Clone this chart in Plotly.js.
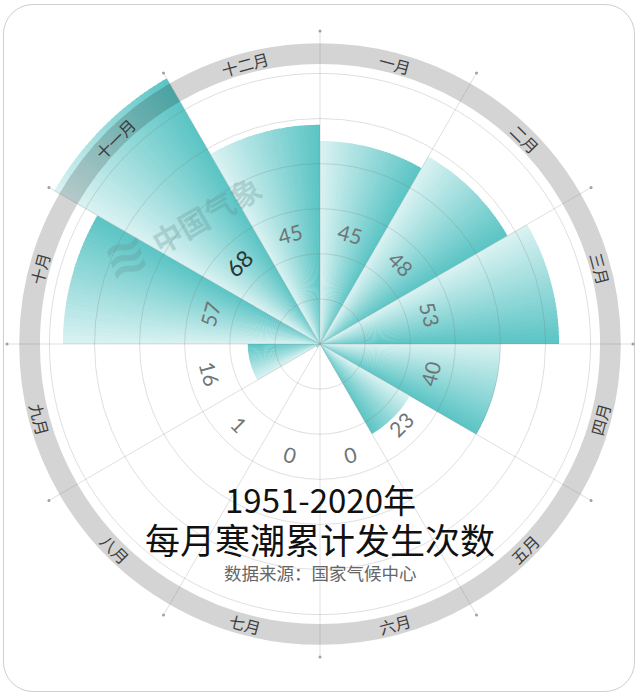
<!DOCTYPE html>
<html>
<head>
<meta charset="utf-8">
<script src="https://cdn.plot.ly/plotly-3.0.1.min.js"></script>
<style>
html,body{margin:0;padding:0;background:#ffffff;}
#frame{position:absolute;left:3px;top:4px;width:632px;height:688px;border:1px solid #cfcfcf;border-radius:30px;box-sizing:border-box;}
#chart{position:absolute;left:0;top:0;width:640px;height:696px;}
</style>
</head>
<body>
<div id="frame"></div>
<div id="chart"></div>
<script>
// ---------------- data ----------------
const months = ['一月','二月','三月','四月','五月','六月','七月','八月','九月','十月','十一月','十二月'];
const counts = [45, 48, 53, 40, 23, 0, 0, 1, 16, 57, 68, 45];          // printed numbers
const barLength = [45, 48, 53, 40, 23, 0, 0, 1, 16, 57, 68, 48.6];     // bar lengths as drawn
const titleLine1 = '1951-2020年';
const titleLine2 = '每月寒潮累计发生次数';
const sourceText = '数据来源：国家气候中心';
const watermark = '中国气象';

// ---------------- geometry / style ----------------
const W = 640, H = 696;
const CX = 320, CY = 344, R_PX = 313, R_MAX = 69.4;
const STEP = 360 / months.length;
const SLICES = 30;
const RING_IN = 62.1, RING_OUT = 66.7;
const LABEL_R = 25.3, MONTH_R = 64.35;
const LIGHT = [218, 242, 242], DARK = [90, 196, 196];
const GRID = 'rgba(110,110,110,0.22)';
const CJK = '"Noto Sans CJK SC", "Noto Sans", sans-serif';

function mix(a, b, t) {
  return 'rgb(' + a.map((v, j) => Math.round(v + (b[j] - v) * t)).join(',') + ')';
}
const domain = {
  x: [(CX - R_PX) / W, (CX + R_PX) / W],
  y: [(H - CY - R_PX) / H, (H - CY + R_PX) / H]
};
const thetaCenters = months.map((m, i) => i * STEP + STEP / 2);

// gradient bars: each month bar split into thin angular slices
const slR = [], slT = [], slW = [], slC = [];
barLength.forEach((v, i) => {
  if (!v) return;
  const start = i * STEP;
  for (let k = 0; k < SLICES; k++) {
    const a0 = start + k * STEP / SLICES;
    const a1 = Math.min(start + (k + 1) * STEP / SLICES + 0.35, start + STEP);
    slR.push(v);
    slT.push((a0 + a1) / 2);
    slW.push(a1 - a0);
    slC.push(mix(LIGHT, DARK, (k + 0.5) / SLICES));
  }
});

const traces = [
  {
    type: 'barpolar', subplot: 'polar',
    r: slR, theta: slT, width: slW,
    marker: {color: slC, line: {width: 0}},
    hoverinfo: 'skip'
  },
  {
    type: 'barpolar', subplot: 'polar',
    base: months.map(() => RING_IN),
    r: months.map(() => RING_OUT - RING_IN),
    theta: thetaCenters, width: months.map(() => STEP),
    marker: {color: 'rgba(0,0,0,0.17)', line: {width: 0}},
    hoverinfo: 'skip'
  },
  {
    type: 'scatterpolar', subplot: 'polar2', mode: 'markers',
    r: months.map(() => R_MAX),
    theta: months.map((m, i) => i * STEP),
    marker: {size: 3, color: '#a0a0a0'},
    cliponaxis: false, hoverinfo: 'skip'
  }
];

function toPaper(rv, th) {
  const rad = th * Math.PI / 180, rp = rv * R_PX / R_MAX;
  return {x: (CX + rp * Math.sin(rad)) / W, y: 1 - (CY - rp * Math.cos(rad)) / H};
}
function readable(th) { return th <= 90 ? th : (th < 270 ? th - 180 : th - 360); }

const maxCount = Math.max(...counts);
const annotations = [];
counts.forEach((c, i) => {
  const p = toPaper(LABEL_R, thetaCenters[i]);
  annotations.push({
    xref: 'paper', yref: 'paper', x: p.x, y: p.y, xanchor: 'center', yanchor: 'middle',
    text: String(c), showarrow: false, textangle: readable(thetaCenters[i]),
    font: {family: 'Lato, "Liberation Sans", sans-serif', size: c === maxCount ? 23 : 21,
           color: c === maxCount ? '#2b3535' : '#6d7676'}
  });
});
months.forEach((m, i) => {
  const p = toPaper(MONTH_R, thetaCenters[i]);
  annotations.push({
    xref: 'paper', yref: 'paper', x: p.x, y: p.y, xanchor: 'center', yanchor: 'middle',
    text: m, showarrow: false, textangle: readable(thetaCenters[i]),
    font: {family: CJK, size: 16, color: '#3c3c3c'}
  });
});
annotations.push(
  {xref: 'paper', yref: 'paper', x: 126 / W, y: 1 - 256 / H, xanchor: 'center', yanchor: 'middle',
   text: '≋', showarrow: false, textangle: -20,
   font: {family: '"DejaVu Sans", sans-serif', size: 52, weight: 700, color: 'rgba(95,140,140,0.26)'}},
  {xref: 'paper', yref: 'paper', x: 206 / W, y: 1 - 214 / H, xanchor: 'center', yanchor: 'middle',
   text: watermark, showarrow: false,
   textangle: -30, font: {family: CJK, size: 30, weight: 700, color: 'rgba(95,140,140,0.28)'}},
  {xref: 'paper', yref: 'paper', x: 0.5, y: 1 - 499 / H, xanchor: 'center', yanchor: 'middle',
   text: titleLine1, showarrow: false, font: {family: CJK, size: 33, color: '#111111'}},
  {xref: 'paper', yref: 'paper', x: 0.5, y: 1 - 538 / H, xanchor: 'center', yanchor: 'middle',
   text: titleLine2, showarrow: false, font: {family: CJK, size: 35, color: '#111111'}},
  {xref: 'paper', yref: 'paper', x: 0.5, y: 1 - 572 / H, xanchor: 'center', yanchor: 'middle',
   text: sourceText, showarrow: false, font: {family: CJK, size: 17.5, color: '#666666'}}
);

const hiddenRadial = {range: [0, R_MAX], showline: false, showticklabels: false, ticks: '', showgrid: false};
const layout = {
  width: W, height: H, margin: {l: 0, r: 0, t: 0, b: 0},
  paper_bgcolor: 'rgba(0,0,0,0)', plot_bgcolor: 'rgba(0,0,0,0)',
  showlegend: false,
  polar: {
    domain: domain, bgcolor: 'rgba(0,0,0,0)', barmode: 'overlay',
    radialaxis: hiddenRadial,
    angularaxis: {rotation: 90, direction: 'clockwise', showline: false, showticklabels: false,
                  ticks: '', showgrid: false}
  },
  polar2: {
    domain: domain, bgcolor: 'rgba(0,0,0,0)',
    radialaxis: {range: [0, R_MAX], tick0: 0, dtick: 10, showgrid: true, gridcolor: GRID, gridwidth: 1,
                 showline: false, showticklabels: false, ticks: ''},
    angularaxis: {rotation: 90, direction: 'clockwise', tickmode: 'linear', tick0: 0, dtick: STEP,
                  showgrid: true, gridcolor: GRID, gridwidth: 1, showline: false, showticklabels: false, ticks: ''}
  },
  annotations: annotations
};

Plotly.newPlot('chart', traces, layout, {staticPlot: true, displayModeBar: false});
</script>
</body>
</html>
